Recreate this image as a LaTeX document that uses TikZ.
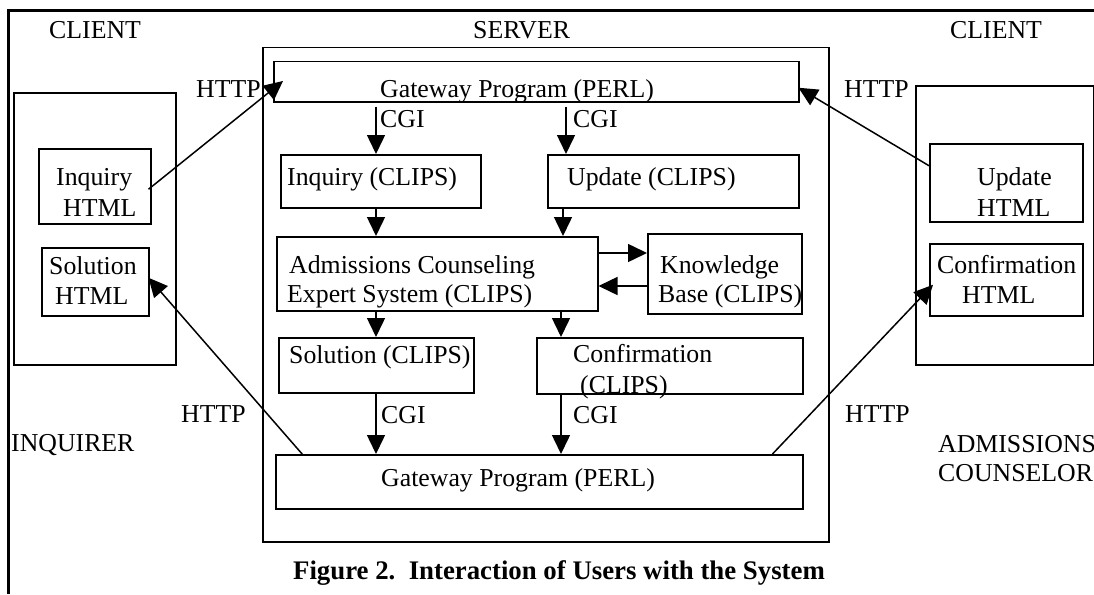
\documentclass[tikz,border=0pt]{standalone}
\usepackage{fontspec}
\setmainfont{Liberation Serif}
\usetikzlibrary{arrows.meta}
\begin{document}
\begin{tikzpicture}[x=1pt,y=-1pt,
  box/.style={draw, line width=1.5pt, rectangle, inner sep=0pt, anchor=north west},
  lbl/.style={anchor=base west, inner sep=0pt, font=\fontsize{25.8}{30}\selectfont},
  arr/.style={-{Triangle[length=19pt,width=18pt]}, line width=1.5pt},
  http/.style={-{Triangle[length=19pt,width=18pt]}, line width=1.5pt}
]
\useasboundingbox (0,0) rectangle (1094,594);
% outer frame (top and left sides)
\draw[line width=3pt] (1094,11) -- (8,11) -- (8,594);

% boxes
\node[box, minimum width=566pt, minimum height=494pt] (server) at (262,47) {};
\node[box, minimum width=525pt, minimum height=40pt] (gwtop) at (273,61) {};
\node[box, minimum width=200pt, minimum height=53pt] (inqc) at (280,154) {};
\node[box, minimum width=251pt, minimum height=53pt] (updc) at (547,154) {};
\node[box, minimum width=321pt, minimum height=74pt] (adm) at (276,236) {};
\node[box, minimum width=154pt, minimum height=80pt] (kb) at (647,233) {};
\node[box, minimum width=195pt, minimum height=55pt] (solc) at (278,337) {};
\node[box, minimum width=266pt, minimum height=56pt] (confc) at (536,337) {};
\node[box, minimum width=527pt, minimum height=54pt] (gwbot) at (275,454) {};
\node[box, minimum width=162pt, minimum height=272pt] (lclient) at (13,92) {};
\node[box, minimum width=112pt, minimum height=75pt] (inqhtml) at (38,148) {};
\node[box, minimum width=107pt, minimum height=68pt] (solhtml) at (41,247) {};
\node[box, minimum width=178pt, minimum height=279pt] (rclient) at (915,85) {};
\node[box, minimum width=153pt, minimum height=78pt] (updhtml) at (929,143) {};
\node[box, minimum width=153pt, minimum height=72pt] (confhtml) at (929,243) {};

% labels
\node[lbl] (tclientl) at (49,39) {CLIENT};
\node[lbl] (tserver) at (473,39) {SERVER};
\node[lbl] (tclientr) at (950,39) {CLIENT};
\node[lbl] (thttp1) at (196,97) {HTTP};
\node[lbl] (thttp2) at (844,97) {HTTP};
\node[lbl] (thttp3) at (181,422) {HTTP};
\node[lbl] (thttp4) at (845,422) {HTTP};
\node[lbl] (tgwtop) at (380,97) {Gateway Program (PERL)};
\node[lbl] (tcgi1) at (380,127) {CGI};
\node[lbl] (tcgi2) at (573,127) {CGI};
\node[lbl] (tinqc) at (287,185) {Inquiry (CLIPS)};
\node[lbl] (tupdc) at (567,185) {Update (CLIPS)};
\node[lbl] (tadm1) at (289,273) {Admissions Counseling};
\node[lbl] (tadm2) at (287,302) {Expert System (CLIPS)};
\node[lbl] (tkb1) at (660,273) {Knowledge};
\node[lbl] (tkb2) at (658,302) {Base (CLIPS)};
\node[lbl] (tsolc) at (289,363) {Solution (CLIPS)};
\node[lbl] (tconfc1) at (573,362) {Confirmation};
\node[lbl] (tconfc2) at (580,393) {(CLIPS)};
\node[lbl] (tcgi3) at (381,423) {CGI};
\node[lbl] (tcgi4) at (573,423) {CGI};
\node[lbl] (tgwbot) at (381,486) {Gateway Program (PERL)};
\node[lbl] (tinquirer) at (11,451) {INQUIRER};
\node[lbl] (tadmc1) at (938,452) {ADMISSIONS};
\node[lbl] (tadmc2) at (938,481) {COUNSELOR};
\node[lbl] (tinqh1) at (56,185) {Inquiry};
\node[lbl] (tinqh2) at (63,216) {HTML};
\node[lbl] (tsolh1) at (49,274) {Solution};
\node[lbl] (tsolh2) at (55,304) {HTML};
\node[lbl] (tupdh1) at (977,185) {Update};
\node[lbl] (tupdh2) at (977,216) {HTML};
\node[lbl] (tconfh1) at (937,273) {Confirmation};
\node[lbl] (tconfh2) at (962,303) {HTML};
\node[anchor=base, inner sep=0pt, font=\fontsize{26.8}{30}\selectfont\bfseries] (caption) at (559,579) {Figure 2.\ \ Interaction of Users with the System};

% helper coordinates
\coordinate (xa) at (376,0);
\coordinate (xb) at (566,0);
\coordinate (xc) at (563,0);
\coordinate (xd) at (561,0);
\coordinate (ya) at (0,253);
\coordinate (yb) at (0,286);

% vertical arrows
\draw[arr, shorten <=4pt] (xa |- gwtop.south) -- (xa |- inqc.north);
\draw[arr, shorten <=4pt] (xb |- gwtop.south) -- (xb |- updc.north);
\draw[arr] (xa |- inqc.south) -- (xa |- adm.north);
\draw[arr] (xc |- updc.south) -- (xc |- adm.north);
\draw[arr] (xa |- adm.south) -- (xa |- solc.north);
\draw[arr, shorten <=-2pt] (xd |- adm.south) -- (xd |- confc.north);
\draw[arr] (xa |- solc.south) -- (xa |- gwbot.north);
\draw[arr] (xd |- confc.south) -- (xd |- gwbot.north);

% knowledge base arrows
\draw[arr] (adm.east |- ya) -- (kb.west |- ya);
\draw[arr] (kb.west |- yb) -- (adm.east |- yb);

% HTTP arrows
\draw[http] ([shift={(-3,3)}]inqhtml.east) -- ([shift={(10,20)}]gwtop.north west);
\draw[http] ([shift={(0,-17)}]updhtml.west) -- ([shift={(-1,6)}]gwtop.east);
\draw[http] ([shift={(28,1)}]gwbot.north west) -- ([shift={(-1,-4)}]solhtml.east);
\draw[http] ([shift={(-31,0)}]gwbot.north east) -- ([shift={(4,5)}]confhtml.west);
\end{tikzpicture}
\end{document}
